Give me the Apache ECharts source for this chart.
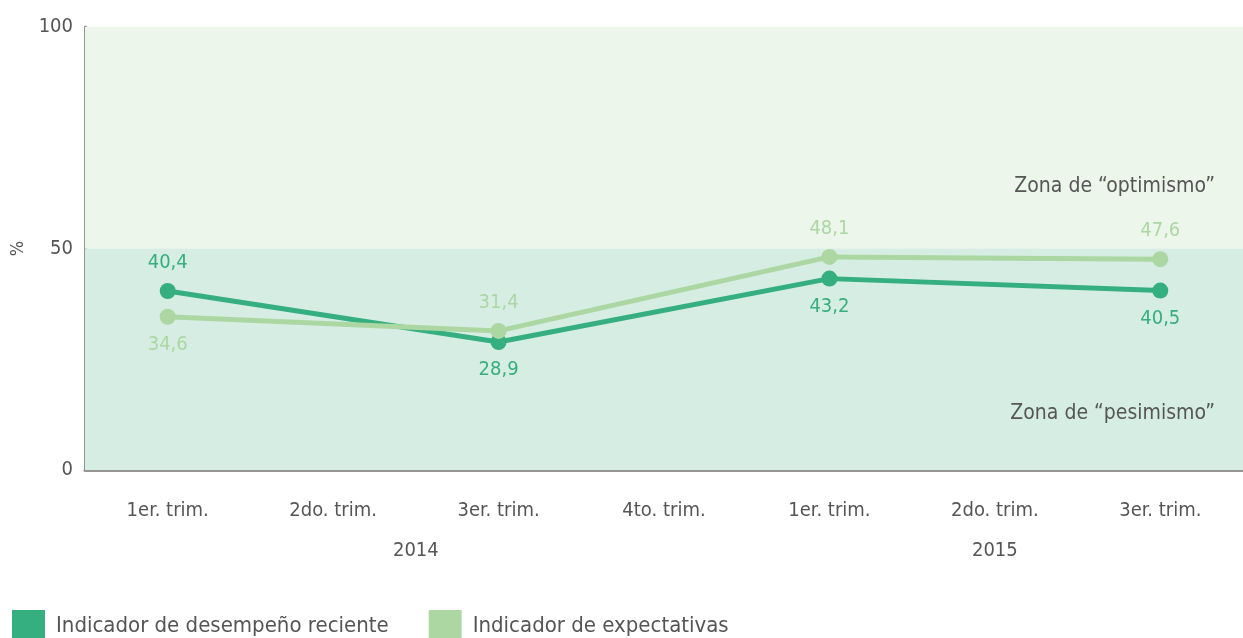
<!DOCTYPE html>
<html><head><meta charset="utf-8">
<script src="https://cdn.jsdelivr.net/npm/echarts@6/dist/echarts.min.js"></script>
<style>html,body{margin:0;padding:0;background:#fff}#c{width:1243px;height:638px}</style>
</head><body><div id="c"></div>
<script>
const categories = ['1er. trim.', '2do. trim.', '3er. trim.', '4to. trim.', '1er. trim.', '2do. trim.', '3er. trim.'];
const years = ['2014', '2015'];
const desempeno = [40.4, null, 28.9, null, 43.2, null, 40.5];
const expectativas = [34.6, null, 31.4, null, 48.1, null, 47.6];
const desempenoLabelPos = ['top', null, 'bottom', null, 'bottom', null, 'bottom'];
const expectativasLabelPos = ['bottom', null, 'top', null, 'top', null, 'top'];
const yTicks = [0, 50, 100];

const FONT = '"Liberation Sans Narrow", "DejaVu Sans Condensed", "Noto Sans", sans-serif';
const DARK = '#35ae80', LIGHT = '#acd7a2';
const chart = echarts.init(document.getElementById('c'));

function mk(vals, pos, color) {
  return vals.map((v, i) => v == null ? null : {
    value: v,
    label: { show: true, position: pos[i], distance: 10, color: color, fontSize: 20, fontFamily: FONT,
      formatter: p => String(p.value).replace('.', ',') }
  });
}

chart.setOption({
  animation: false,
  textStyle: { fontFamily: FONT },
  grid: { left: 85, right: 0, top: 27, bottom: 168 },
  legend: {
    left: 7, top: 605, itemWidth: 33, itemHeight: 33, itemGap: 40, icon: 'rect',
    textStyle: { fontSize: 22, color: '#555', fontFamily: FONT, padding: [6, 0, 0, 6] },
    data: ['Indicador de desempeño reciente', 'Indicador de expectativas']
  },
  xAxis: {
    type: 'category', data: categories, boundaryGap: true,
    axisLine: { lineStyle: { color: '#959595', width: 3 } },
    axisTick: { show: false },
    axisLabel: { color: '#555', fontSize: 20, margin: 31, fontFamily: FONT }
  },
  yAxis: {
    type: 'value', min: 0, max: 100, interval: 50,
    name: '%', nameLocation: 'middle', nameGap: 58, nameRotate: 90,
    nameTextStyle: { color: '#555', fontSize: 18, fontFamily: FONT },
    axisLine: { show: true, lineStyle: { color: '#959595', width: 3 } },
    axisTick: { show: false }, splitLine: { show: false },
    axisLabel: { color: '#555', fontSize: 20, margin: 12, fontFamily: FONT,
      formatter: v => yTicks.includes(v) ? String(v) : '' }
  },
  series: [
    {
      name: 'Indicador de desempeño reciente', type: 'line', data: mk(desempeno, desempenoLabelPos, DARK),
      connectNulls: true, symbol: 'circle', symbolSize: 16, z: 3,
      itemStyle: { color: DARK }, lineStyle: { color: DARK, width: 5 },
      markArea: {
        silent: true,
        data: [
          [{ yAxis: 50, itemStyle: { color: '#ecf6ea' },
             label: { show: true, position: 'insideBottomRight', color: '#555', fontSize: 21, fontFamily: FONT,
               formatter: 'Zona de “optimismo”', offset: [-23, -46] } }, { yAxis: 100 }],
          [{ yAxis: 0, itemStyle: { color: '#d6ede4' },
             label: { show: true, position: 'insideBottomRight', color: '#555', fontSize: 21, fontFamily: FONT,
               formatter: 'Zona de “pesimismo”', offset: [-23, -41] } }, { yAxis: 50 }]
        ]
      }
    },
    {
      name: 'Indicador de expectativas', type: 'line', data: mk(expectativas, expectativasLabelPos, LIGHT),
      connectNulls: true, symbol: 'circle', symbolSize: 16, z: 4,
      itemStyle: { color: LIGHT }, lineStyle: { color: LIGHT, width: 5 }
    }
  ]
});

const y0 = chart.convertToPixel({ yAxisIndex: 0 }, 0);
const xa = (chart.convertToPixel({ xAxisIndex: 0 }, 0) + chart.convertToPixel({ xAxisIndex: 0 }, 3)) / 2;
const xb = (chart.convertToPixel({ xAxisIndex: 0 }, 4) + chart.convertToPixel({ xAxisIndex: 0 }, 6)) / 2;
chart.setOption({
  graphic: [
    { type: 'text', x: xa, y: y0 + 81, style: { text: years[0], fill: '#555', font: '20px ' + FONT, textAlign: 'center', textVerticalAlign: 'middle' } },
    { type: 'text', x: xb, y: y0 + 81, style: { text: years[1], fill: '#555', font: '20px ' + FONT, textAlign: 'center', textVerticalAlign: 'middle' } }
  ]
});
</script></body></html>
